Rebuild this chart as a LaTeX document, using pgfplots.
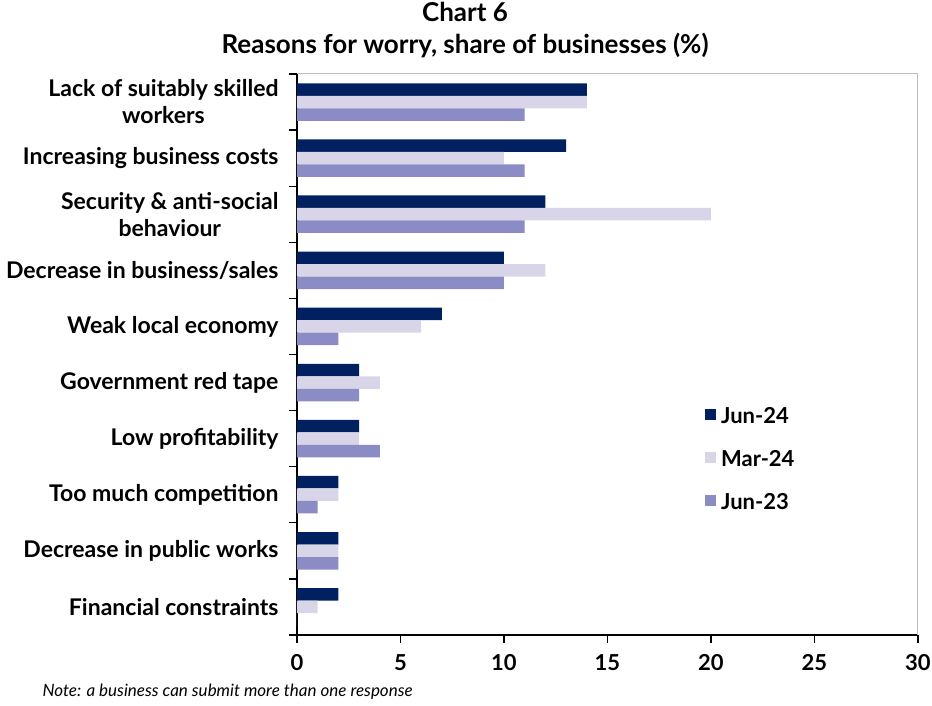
\documentclass[border=0pt]{standalone}
\usepackage{pgfplots}
\pgfplotsset{compat=1.18}
\usepackage{fontspec}
\setmainfont{Lato}
\definecolor{navy}{HTML}{002060}
\definecolor{lav}{HTML}{D9D5E8}
\definecolor{mid}{HTML}{8B8BC6}
\begin{document}
\begin{tikzpicture}
\path[use as bounding box] (-297pt,-71pt) rectangle (635pt,635pt);
\begin{axis}[
 at={(0pt,0pt)}, anchor=south west,
 scale only axis, width=621pt, height=561pt,
 xbar, bar width=12.5pt,
 xmin=0, xmax=30, ymin=-0.5, ymax=9.5,
 axis x line*=bottom, axis y line*=left,
 axis line style={line width=1.5pt, -},
 tick align=outside,
 xtick={0,5,...,30},
 major tick length=8pt,
 tick style={draw=black, line width=1.3pt},
 ytick={-0.5,0.5,...,9.5},
 yticklabels={,,,,,,,,,,,},
 extra y ticks={0,...,9},
 extra y tick labels={Financial constraints, Decrease in public works, Too much competition, Low profitability, Government red tape, Weak local economy, Decrease in business/sales, {Security \& anti-social\\behaviour}, Increasing business costs, {Lack of suitably skilled\\workers}},
 extra y tick style={major tick length=0pt},
 yticklabel style={align=center, font=\bfseries\fontsize{23}{27}\selectfont, xshift=-15pt},
 xticklabel style={font=\bfseries\fontsize{22}{24}\selectfont, yshift=-8pt},
 /pgf/number format/assume math mode=true,
 clip=false,
 legend style={draw=none, fill=none, at={(0.652,0.414)}, anchor=north west, font=\bfseries\fontsize{22}{24}\selectfont, row sep=21.5pt, cells={anchor=west}, nodes={inner xsep=5pt}},
 legend image code/.code={\fill[#1,draw=none] (0pt,-4pt) rectangle (11pt,7pt);},
]
\addplot[fill=navy, draw=none, bar shift=12.5pt] coordinates {(2,0) (2,1) (2,2) (3,3) (3,4) (7,5) (10,6) (12,7) (13,8) (14,9)};
\addplot[fill=lav, draw=none, bar shift=0pt] coordinates {(1,0) (2,1) (2,2) (3,3) (4,4) (6,5) (12,6) (20,7) (10,8) (14,9)};
\addplot[fill=mid, draw=none, bar shift=-12.5pt] coordinates {(0,0) (2,1) (1,2) (4,3) (3,4) (2,5) (10,6) (11,7) (11,8) (11,9)};
\legend{Jun-24, Mar-24, Jun-23}
\draw[black!25, line width=1pt] (rel axis cs:0,1) -- (rel axis cs:1,1) -- (rel axis cs:1,0);
\end{axis}
\node[align=center, font=\bfseries\fontsize{26}{32}\selectfont] at (168pt,605pt) {Chart 6\\Reasons for worry, share of businesses (\%)};
\node[anchor=west, font=\itshape\fontsize{17}{19}\selectfont] at (-258pt,-57pt) {Note: a business can submit more than one response};
\end{tikzpicture}
\end{document}
